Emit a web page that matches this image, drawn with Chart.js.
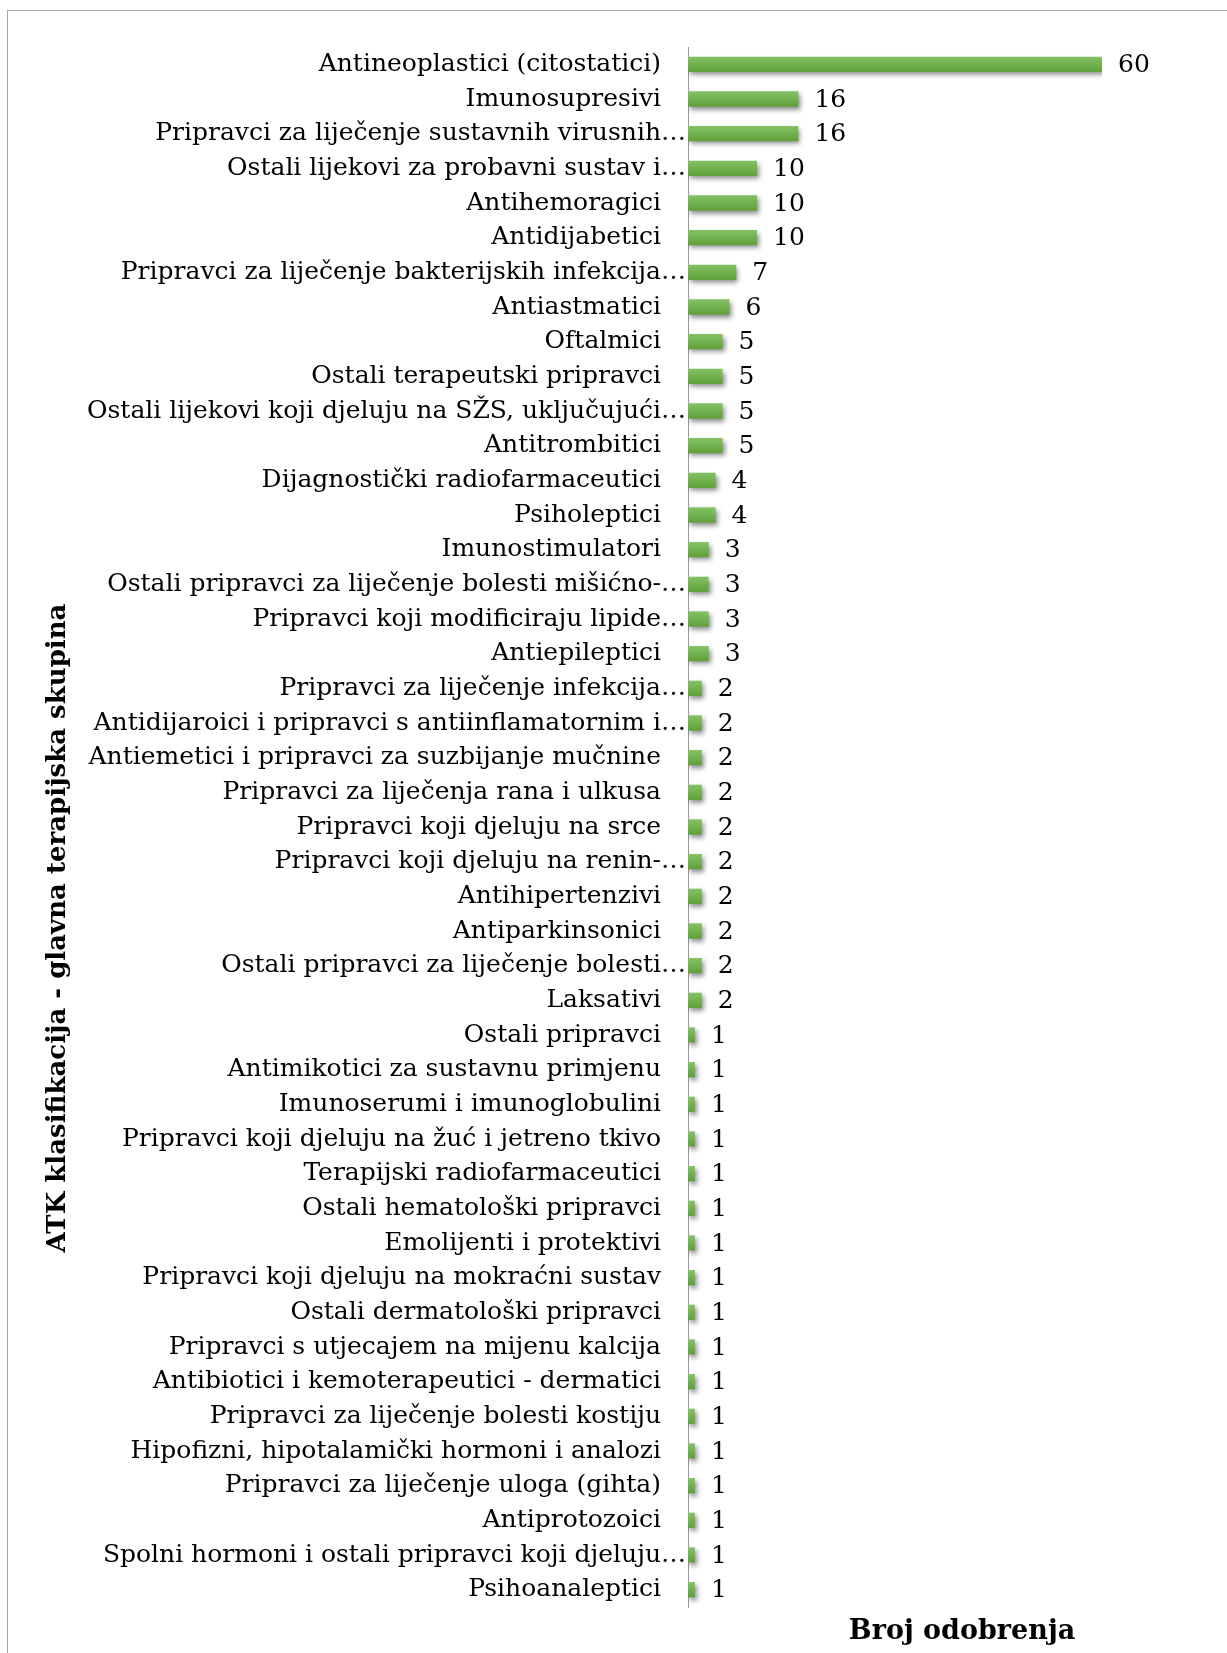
<!DOCTYPE html>
<html>
<head>
<meta charset="utf-8">
<script src="https://cdn.jsdelivr.net/npm/chart.js@4.4.1/dist/chart.umd.min.js"></script>
<style>
  html, body { margin: 0; padding: 0; background: #fff; overflow: hidden; }
  #wrap { position: relative; width: 1227px; height: 1653px; }
  #frame { position: absolute; left: 7px; top: 10px; width: 1300px; height: 1700px;
           border: 1px solid #a6a6a6; box-sizing: border-box; }
  canvas { position: absolute; left: 0; top: 0; }
</style>
</head>
<body>
<div id="wrap">
  <div id="frame"></div>
  <canvas id="atkChart" width="1227" height="1653"></canvas>
</div>
<script>
const categories = [
  "Antineoplastici (citostatici)",
  "Imunosupresivi",
  "Pripravci za liječenje sustavnih virusnih…",
  "Ostali lijekovi za probavni sustav i…",
  "Antihemoragici",
  "Antidijabetici",
  "Pripravci za liječenje bakterijskih infekcija…",
  "Antiastmatici",
  "Oftalmici",
  "Ostali terapeutski pripravci",
  "Ostali lijekovi koji djeluju na SŽS, uključujući…",
  "Antitrombitici",
  "Dijagnostički radiofarmaceutici",
  "Psiholeptici",
  "Imunostimulatori",
  "Ostali pripravci za liječenje bolesti mišićno-…",
  "Pripravci koji modificiraju lipide…",
  "Antiepileptici",
  "Pripravci za liječenje infekcija…",
  "Antidijaroici i pripravci s antiinflamatornim i…",
  "Antiemetici i pripravci za suzbijanje mučnine",
  "Pripravci za liječenja rana i ulkusa",
  "Pripravci koji djeluju na srce",
  "Pripravci koji djeluju na renin-…",
  "Antihipertenzivi",
  "Antiparkinsonici",
  "Ostali pripravci za liječenje bolesti…",
  "Laksativi",
  "Ostali pripravci",
  "Antimikotici za sustavnu primjenu",
  "Imunoserumi i imunoglobulini",
  "Pripravci koji djeluju na žuć i jetreno tkivo",
  "Terapijski radiofarmaceutici",
  "Ostali hematološki pripravci",
  "Emolijenti i protektivi",
  "Pripravci koji djeluju na mokraćni sustav",
  "Ostali dermatološki pripravci",
  "Pripravci s utjecajem na mijenu kalcija",
  "Antibiotici i kemoterapeutici - dermatici",
  "Pripravci za liječenje bolesti kostiju",
  "Hipofizni, hipotalamički hormoni i analozi",
  "Pripravci za liječenje uloga (gihta)",
  "Antiprotozoici",
  "Spolni hormoni i ostali pripravci koji djeluju…",
  "Psihoanaleptici"
];

const approvals = [
  60, 16, 16, 10, 10, 10, 7, 6, 5, 5, 5, 5, 4, 4, 3, 3, 3, 3,
  2, 2, 2, 2, 2, 2, 2, 2, 2, 2,
  1, 1, 1, 1, 1, 1, 1, 1, 1, 1, 1, 1, 1, 1, 1, 1, 1
];

const yTitle = "ATK klasifikacija - glavna terapijska skupina";
const xTitle = "Broj odobrenja";

const FONT = "'DejaVu Serif', 'Liberation Serif', serif";
const ELLIPSIS = "…";
const TICK_PAD = 27;

// soft drop shadow under the bars, like the office chart
const barShadow = {
  id: "barShadow",
  beforeDatasetsDraw(chart) {
    const c = chart.ctx;
    c.save();
    c.shadowColor = "rgba(0,0,0,0.45)";
    c.shadowBlur = 5;
    c.shadowOffsetX = 2;
    c.shadowOffsetY = 3;
  },
  afterDatasetsDraw(chart) {
    chart.ctx.restore();
  }
};

// value labels, hanging ellipses of cut labels, and the two axis titles
const labelsAndTitles = {
  id: "labelsAndTitles",
  afterDraw(chart) {
    const c = chart.ctx;
    const meta = chart.getDatasetMeta(0);
    const yScale = chart.scales.y;
    c.save();
    c.fillStyle = "#000";
    c.font = "25px " + FONT;
    c.textBaseline = "middle";

    // excel lets the "…" of a cut label hang past the label edge
    c.textAlign = "left";
    categories.forEach((label, i) => {
      if (label.endsWith(ELLIPSIS)) {
        c.fillText(ELLIPSIS, yScale.right - TICK_PAD, yScale.getPixelForValue(i));
      }
    });

    meta.data.forEach((bar, i) => {
      c.fillText(String(approvals[i]), bar.x + 16, bar.y + 1);
    });

    c.textAlign = "center";
    c.font = "bold 27px " + FONT;
    c.fillText(xTitle, 962, 1632);

    c.font = "bold 26px " + FONT;
    c.translate(58, 928);
    c.rotate(-Math.PI / 2);
    c.fillText(yTitle, 0, 0);
    c.restore();
  }
};

const ctx = document.getElementById("atkChart").getContext("2d");

new Chart(ctx, {
  type: "bar",
  data: {
    labels: categories,
    datasets: [
      {
        label: xTitle,
        data: approvals,
        backgroundColor: function (context) {
          const chart = context.chart;
          const y = chart.scales.y;
          const cy = y ? y.getPixelForValue(context.dataIndex) : NaN;
          if (!isFinite(cy)) return "#6cad47";
          const g = chart.ctx.createLinearGradient(0, cy - 8, 0, cy + 8);
          g.addColorStop(0, "#85c265");
          g.addColorStop(1, "#5e9f3a");
          return g;
        },
        borderWidth: 0,
        barPercentage: 0.44,
        categoryPercentage: 1.0
      }
    ]
  },
  options: {
    indexAxis: "y",
    responsive: false,
    animation: false,
    layout: {
      padding: { left: 0, top: 47, right: 125, bottom: 46 }
    },
    scales: {
      x: {
        display: false,
        min: 0,
        max: 60
      },
      y: {
        afterFit(scale) {
          scale.width = 688; // label column width
        },
        grid: { display: false, drawTicks: false },
        border: { display: true, color: "#9a9a9a", width: 1 },
        ticks: {
          autoSkip: false,
          padding: TICK_PAD,
          color: "#000",
          font: { family: FONT, size: 25 },
          callback: function (value) {
            const label = this.getLabelForValue(value);
            return label.endsWith(ELLIPSIS) ? label.slice(0, -1) : label;
          }
        }
      }
    },
    plugins: {
      legend: { display: false },
      tooltip: { enabled: false }
    }
  },
  plugins: [barShadow, labelsAndTitles]
});
</script>
</body>
</html>
